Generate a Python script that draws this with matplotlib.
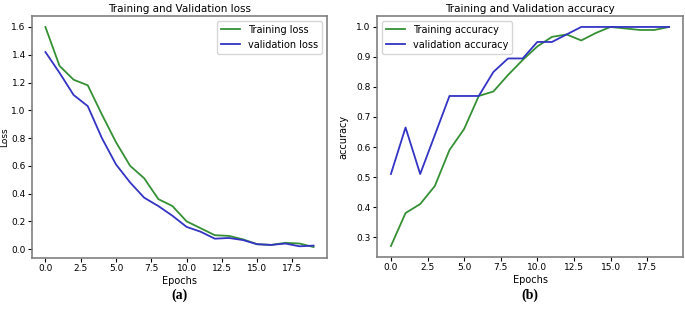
import matplotlib.pyplot as plt

epochs = list(range(20))

train_loss = [1.60, 1.32, 1.22, 1.18, 0.97, 0.77, 0.60, 0.51, 0.36, 0.31,
              0.20, 0.15, 0.10, 0.095, 0.07, 0.035, 0.03, 0.045, 0.04, 0.015]
val_loss = [1.42, 1.27, 1.11, 1.03, 0.80, 0.61, 0.48, 0.37, 0.31, 0.24,
            0.16, 0.125, 0.075, 0.08, 0.065, 0.035, 0.03, 0.04, 0.02, 0.025]

train_acc = [0.27, 0.38, 0.41, 0.47, 0.59, 0.66, 0.77, 0.785, 0.84, 0.89,
             0.935, 0.967, 0.975, 0.955, 0.98, 1.0, 0.995, 0.99, 0.99, 1.0]
val_acc = [0.51, 0.665, 0.51, 0.64, 0.77, 0.77, 0.77, 0.85, 0.895, 0.895,
           0.95, 0.95, 0.975, 1.0, 1.0, 1.0, 1.0, 1.0, 1.0, 1.0]

green = '#359035'
blue = '#3333c4'

fig = plt.figure(figsize=(6.85, 3.09), dpi=100)
ax1 = fig.add_axes([32 / 685, 1 - 258 / 309, 295 / 685, 242 / 309])
ax2 = fig.add_axes([377 / 685, 1 - 257 / 309, 306 / 685, 241 / 309])

ax1.plot(epochs, train_loss, color=green, lw=1.3, label='Training loss')
ax1.plot(epochs, val_loss, color=blue, lw=1.3, label='validation loss')
ax1.set_title('Training and Validation loss', fontsize=7.5, pad=3)
ax1.set_xlabel('Epochs', fontsize=7, labelpad=2)
ax1.set_ylabel('Loss', fontsize=6.5)
ax1.yaxis.set_label_coords(-0.078, 0.5)
ax1.legend(loc='upper right', fontsize=7)

ax2.plot(epochs, train_acc, color=green, lw=1.3, label='Training accuracy')
ax2.plot(epochs, val_acc, color=blue, lw=1.3, label='validation accuracy')
ax2.set_title('Training and Validation accuracy', fontsize=7.5, pad=3)
ax2.set_xlabel('Epochs', fontsize=7, labelpad=2)
ax2.set_ylabel('accuracy', fontsize=7)
ax2.yaxis.set_label_coords(-0.095, 0.5)
ax2.legend(loc='upper left', fontsize=7)

for ax in (ax1, ax2):
    ax.tick_params(labelsize=6.5, length=3, pad=1.5)
    for s in ax.spines.values():
        s.set_color('#808080')
        s.set_linewidth(1.2)

fig.text(179 / 685, 1 - 295 / 309, '(a)', ha='center', va='center',
         fontsize=10, fontweight='bold', family='Liberation Serif')
fig.text(530 / 685, 1 - 295 / 309, '(b)', ha='center', va='center',
         fontsize=10, fontweight='bold', family='Liberation Serif')

plt.savefig('out.png', dpi=100)
